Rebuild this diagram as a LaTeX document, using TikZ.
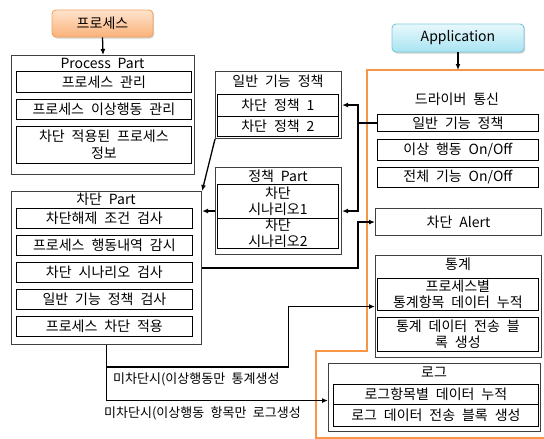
\documentclass[tikz,border=0pt]{standalone}
\usepackage{fontspec}
\setmainfont{Noto Sans CJK KR}[WordSpace=2.2]
\usetikzlibrary{arrows.meta,calc,shadows}
\definecolor{orng}{HTML}{F79646}
\definecolor{prtop}{HTML}{FEE3CC}
\definecolor{prbot}{HTML}{FAB27A}
\definecolor{prdraw}{HTML}{F5A25E}
\definecolor{aptop}{HTML}{E8F8FC}
\definecolor{apbot}{HTML}{A8E4F2}
\definecolor{apdraw}{HTML}{7CC8DA}
\begin{document}
\begin{tikzpicture}[x=1pt,y=-1pt,
  every node/.style={font=\fontsize{14}{16.5}\selectfont, inner sep=0pt, align=center},
  bx/.style={draw=black, line width=0.8pt, fill=white, anchor=north west},
  grp/.style={draw=black!75, line width=1.1pt, fill=white, anchor=north west},
  rbox/.style={rounded corners=4pt, line width=0.9pt,
    drop shadow={shadow xshift=1.2pt, shadow yshift=-1.5pt, opacity=0.3, fill=black!60}},
  arr/.style={-{Latex[length=6pt,width=5pt]}, line width=1.3pt},
  ln/.style={line width=1.3pt},
  lab/.style={font=\fontsize{13}{15}\selectfont, anchor=west}]
\useasboundingbox (0,0) rectangle (544,439);

% orange boundary
\draw[orng, line width=2.5pt] (546,70) -- (367,70) -- (367,351) -- (316,351) -- (316,438) -- (546,438);

% top rounded boxes
\node[rbox, draw=prdraw, top color=prtop, bottom color=prbot, minimum width=101pt, minimum height=27pt] (proc) at (102.5,23.5) {프로세스};
\node[rbox, draw=apdraw, top color=aptop, bottom color=apbot, minimum width=132pt, minimum height=28pt] (app) at (458,38) {Application};

% Process Part
\node[grp, minimum width=183pt, minimum height=119pt] (pp) at (11,55) {};
\node (ppt) at (102.5,63) {Process Part};
\node[bx, minimum width=175pt, minimum height=21pt] (pp1) at (16,71) {프로세스 관리};
\node[bx, minimum width=175pt, minimum height=20pt] (pp2) at (16,99) {프로세스 이상행동 관리};
\node[bx, minimum width=175pt, minimum height=37pt] (pp3) at (16,126) {차단 적용된 프로세스\\정보};

% 일반 기능 정책 group
\node[grp, minimum width=126pt, minimum height=67pt] (gp) at (215,71) {};
\node (gpt) at (278,81) {일반 기능 정책};
\node[bx, minimum width=121pt, minimum height=22pt] (gp1) at (217,94) {차단 정책 1};
\node[bx, minimum width=121pt, minimum height=20pt] (gp2) at (217,116) {차단 정책 2};

% 정책 Part
\node[grp, minimum width=126pt, minimum height=87pt] (sp) at (215,167) {};
\node (spt) at (278,176) {정책 Part};
\node[bx, minimum width=121pt, minimum height=34pt] (sp1) at (217,184) {차단\\시나리오1};
\node[bx, minimum width=121pt, minimum height=30pt] (sp2) at (217,218) {차단\\시나리오2};

% 차단 Part
\node[grp, minimum width=190pt, minimum height=153pt] (bp) at (11,191) {};
\node (bpt) at (106,199) {차단 Part};
\node[bx, minimum width=176pt, minimum height=20pt] (bp1) at (16,208) {차단해제 조건 검사};
\node[bx, minimum width=176pt, minimum height=20pt] (bp2) at (16,235) {프로세스 행동내역 감시};
\node[bx, minimum width=176pt, minimum height=20pt] (bp3) at (16,262) {차단 시나리오 검사};
\node[bx, minimum width=176pt, minimum height=20pt] (bp4) at (16,289) {일반 기능 정책 검사};
\node[bx, minimum width=176pt, minimum height=20pt] (bp5) at (16,316) {프로세스 차단 적용};

% Driver area
\node (dt) at (457,99) {드라이버 통신};
\node[bx, minimum width=161pt, minimum height=17pt] (o1) at (377,114) {일반 기능 정책};
\node[bx, minimum width=161pt, minimum height=21pt] (o2) at (377,139) {이상 행동 On/Off};
\node[bx, minimum width=161pt, minimum height=20pt] (o3) at (377,167) {전체 기능 On/Off};
\node[grp, minimum width=166pt, minimum height=27pt] (alert) at (375,208) {차단 Alert};

\node[grp, minimum width=166pt, minimum height=102pt] (st) at (375,255) {};
\node (stt) at (458,264) {통계};
\node[bx, minimum width=161pt, minimum height=32pt] (st1) at (377,278) {프로세스별\\통계항목 데이터 누적};
\node[bx, minimum width=161pt, minimum height=34pt] (st2) at (377,317) {통계 데이터 전송 블\\록 생성};

\node[grp, minimum width=212pt, minimum height=68pt] (lg) at (328,363) {};
\node (lgt) at (434,372) {로그};
\node[bx, minimum width=205pt, minimum height=20pt] (lg1) at (333,384) {로그항목별 데이터 누적};
\node[bx, minimum width=205pt, minimum height=22pt] (lg2) at (333,404) {로그 데이터 전송 블록 생성};

% connectors
\coordinate (otop) at (458,70);
\draw[arr] (proc.south) -- (pp.north);
\draw[arr] (app.south) -- (otop);
\draw[arr] (gp.south west) -- (bp.north east);

\coordinate (j) at ($(o1.west)+(-19,0)$);
\draw[ln] (o1.west) -- (j);
\draw[arr] (j) |- (gp.east);
\draw[arr] (j) |- (sp.east);
\draw[arr] (sp.west) -- (sp.west -| bp.east);

\coordinate (q) at ($(bp.east)+(156,0)$);
\draw[arr] (bp.east) -- (q) |- (alert.west);

\coordinate (k) at ($(bp.south)+(0,22)$);
\coordinate (m) at ($(k)+(182,0)$);
\coordinate (lgin) at ($(lg.west)+(0,3)$);
\draw[arr] (bp.south) -- (k) -- (m) |- (st.west);
\draw[arr] (k) |- (lgin);

\node[lab] (lab1) at (113,379) {미차단시(이상행동만 통계생성};
\node[lab] (lab2) at (104,413) {미차단시(이상행동 항목만 로그생성};
\end{tikzpicture}
\end{document}
